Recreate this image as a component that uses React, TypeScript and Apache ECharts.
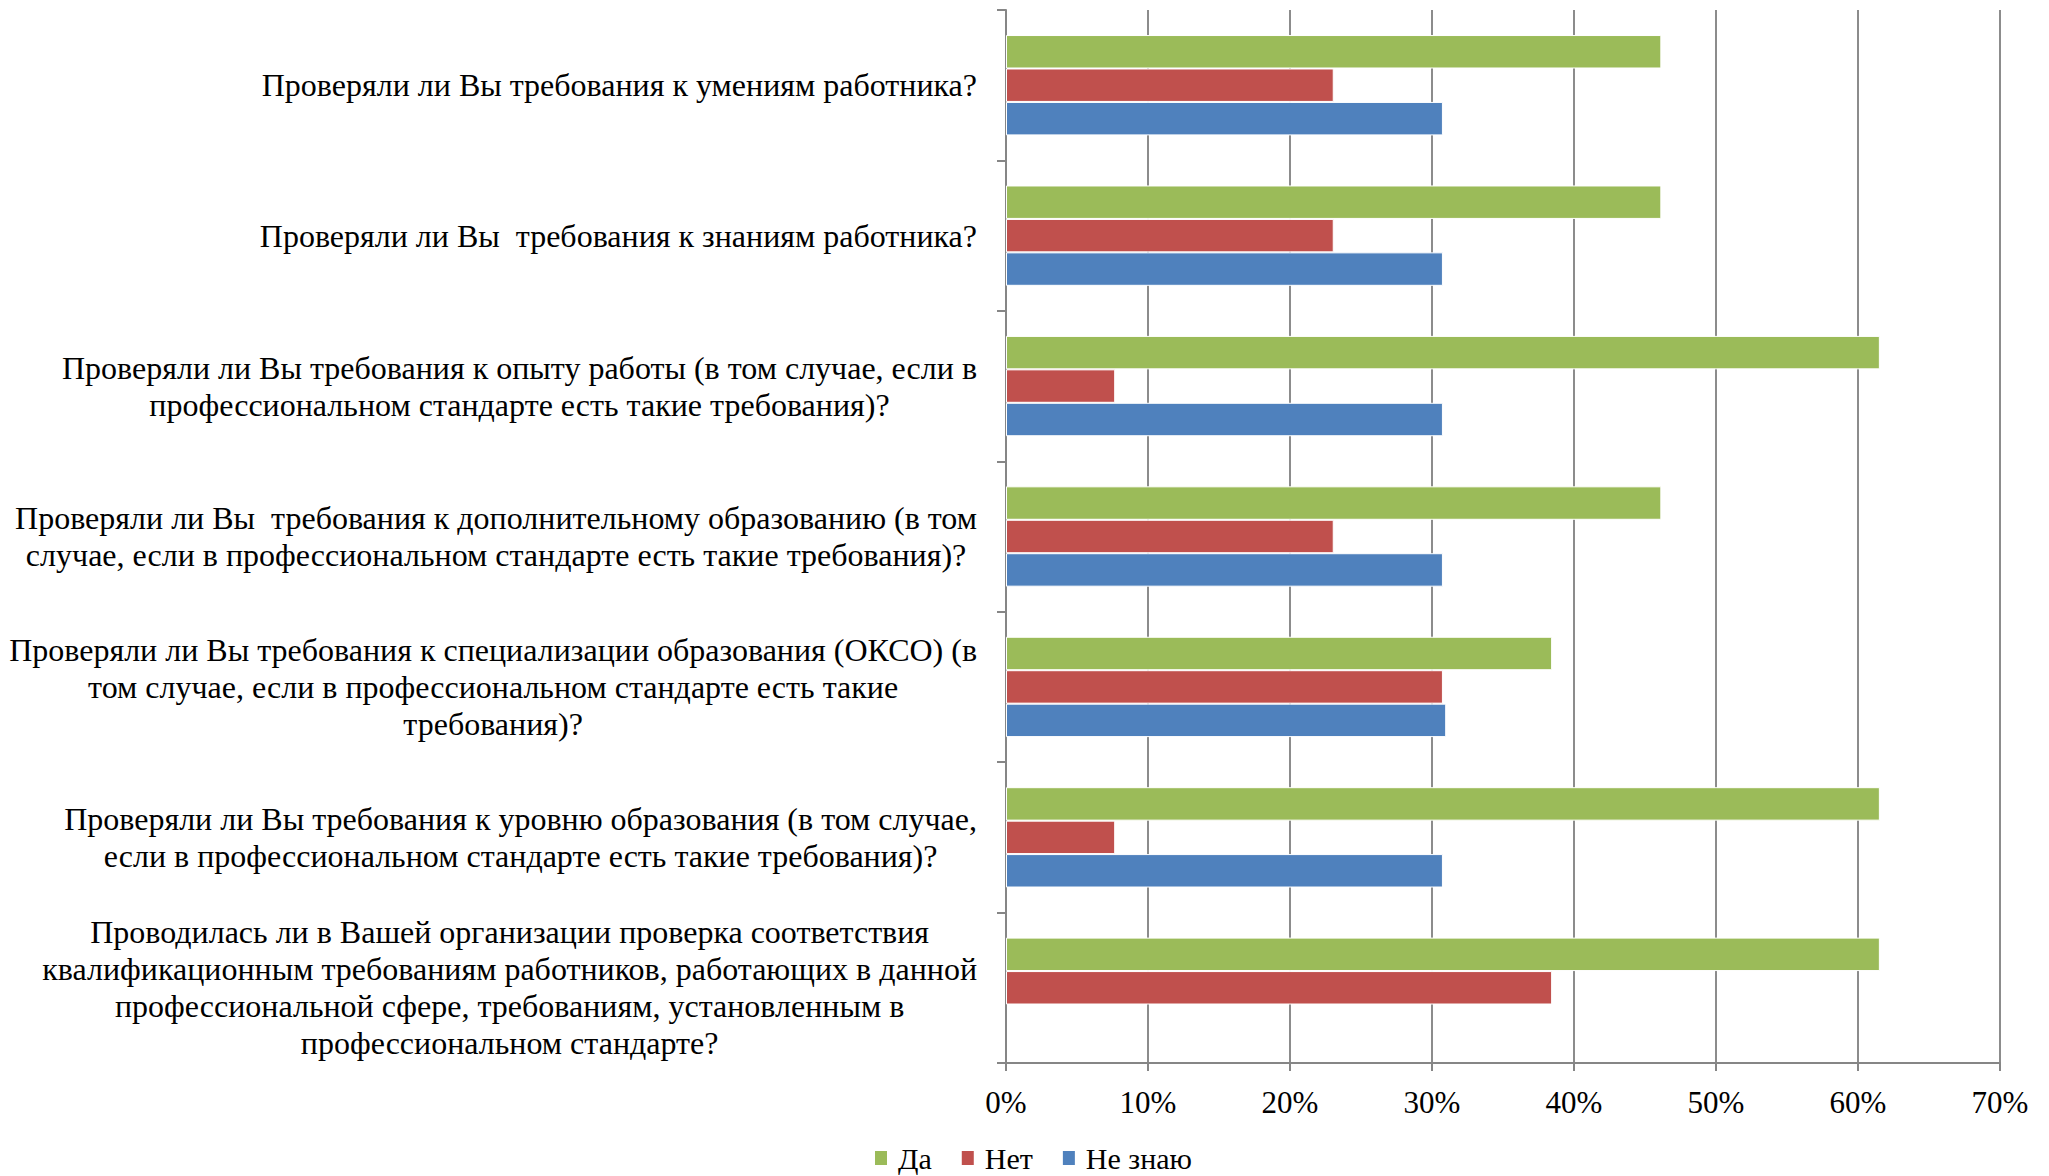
import React, { useEffect, useRef } from "react";
import * as echarts from "echarts";

const categories: string[] = [
  "Проверяли ли Вы требования к умениям работника?",
  "Проверяли ли Вы  требования к знаниям работника?",
  "Проверяли ли Вы требования к опыту работы (в том случае, если в\nпрофессиональном стандарте есть такие требования)?",
  "Проверяли ли Вы  требования к дополнительному образованию (в том\nслучае, если в профессиональном стандарте есть такие требования)?",
  "Проверяли ли Вы требования к специализации образования (ОКСО) (в\nтом случае, если в профессиональном стандарте есть такие\nтребования)?",
  "Проверяли ли Вы требования к уровню образования (в том случае,\nесли в профессиональном стандарте есть такие требования)?",
  "Проводилась ли в Вашей организации проверка соответствия\nквалификационным требованиям работников, работающих в данной\nпрофессиональной сфере, требованиям, установленным в\nпрофессиональном стандарте?",
];

const seriesNames: string[] = ["Да", "Нет", "Не знаю"];
const yesValues: (number | null)[] = [46.15, 46.15, 61.54, 46.15, 38.46, 61.54, 61.54];
const noValues: (number | null)[] = [23.08, 23.08, 7.69, 23.08, 30.77, 7.69, 38.46];
const dontKnowValues: (number | null)[] = [30.77, 30.77, 30.77, 30.77, 31.0, 30.77, null];
const seriesColors: string[] = ["#9BBB59", "#C0504D", "#4F81BD"];

const FONT = "'Liberation Serif', 'Times New Roman', serif";

export default function App() {
  const ref = useRef<HTMLDivElement>(null);

  useEffect(() => {
    if (!ref.current) return;
    const chart = echarts.init(ref.current, undefined, { renderer: "svg" });
    const values = [yesValues, noValues, dontKnowValues];
    chart.setOption({
      animation: false,
      backgroundColor: "#ffffff",
      textStyle: { fontFamily: FONT, color: "#000" },
      grid: { left: 1006, top: 10, right: 49, bottom: 113, containLabel: false },
      legend: {
        data: seriesNames,
        left: 873,
        top: 1143,
        padding: 0,
        itemWidth: 14,
        itemHeight: 16,
        itemGap: 28,
        icon: "rect",
        textStyle: {
          fontFamily: FONT,
          fontSize: 30,
          lineHeight: 30,
          color: "#000",
          padding: [0, 0, 0, 5],
        },
      },
      xAxis: {
        type: "value",
        min: 0,
        max: 70,
        interval: 10,
        axisLine: { show: true, lineStyle: { color: "#868686", width: 2 } },
        axisTick: { show: true, length: 8, lineStyle: { color: "#868686", width: 2 } },
        splitLine: { show: true, lineStyle: { color: "#8c8c8c", width: 2 } },
        axisLabel: {
          formatter: "{value}%",
          fontFamily: FONT,
          fontSize: 31,
          color: "#000",
          margin: 24,
        },
      },
      yAxis: {
        type: "category",
        inverse: true,
        data: categories,
        axisLine: { show: true, lineStyle: { color: "#868686", width: 2 } },
        axisTick: { show: true, length: 9, interval: 0, lineStyle: { color: "#868686", width: 2 } },
        axisLabel: {
          interval: 0,
          margin: 29,
          align: "right",
          fontFamily: FONT,
          fontSize: 32,
          lineHeight: 37,
          color: "#000",
          formatter: (v: string) =>
            v
              .split("\n")
              .map((l) => "{c|" + l + "}")
              .join("\n"),
          rich: {
            c: { align: "center", fontFamily: FONT, fontSize: 32, lineHeight: 37, color: "#000" },
          },
        },
      },
      series: seriesNames.map((name, i) => ({
        name,
        type: "bar",
        data: values[i],
        barGap: "0%",
        barCategoryGap: "33.3%",
        itemStyle: { color: seriesColors[i], borderColor: "#ffffff", borderWidth: 1 },
      })),
    });
    return () => chart.dispose();
  }, []);

  return (
    <div
      ref={ref}
      style={{ position: "fixed", left: 0, top: 0, width: 2049, height: 1176, background: "#fff" }}
    />
  );
}
